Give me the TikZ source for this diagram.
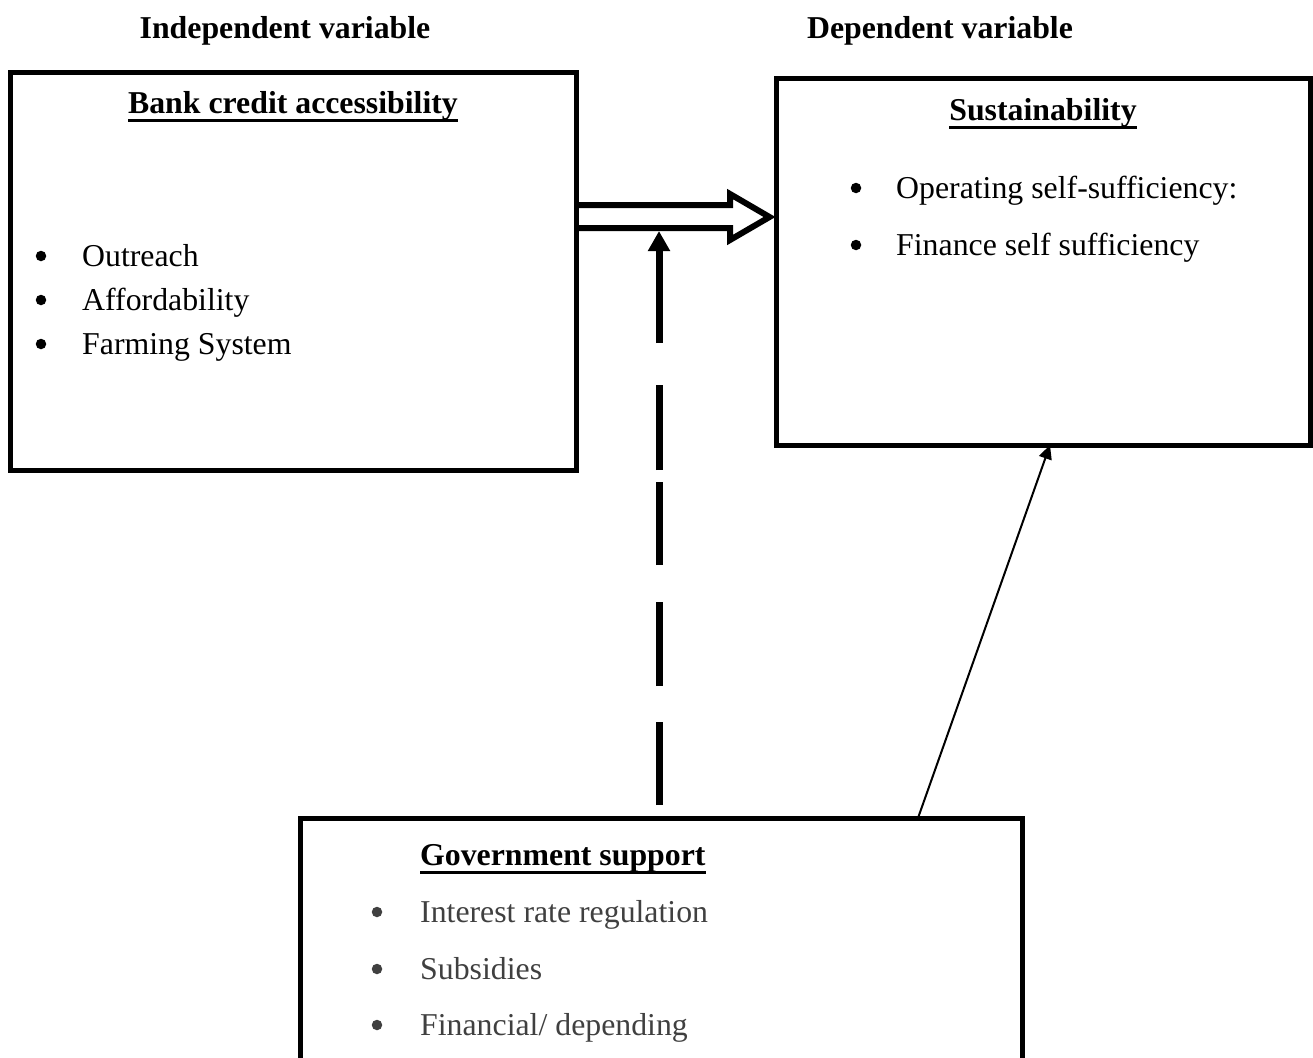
\documentclass[tikz,border=0pt]{standalone}
\usepackage{fontspec}
\setmainfont{Liberation Serif}
\usetikzlibrary{arrows.meta,calc}

\definecolor{govgray}{HTML}{404040}
\newcommand{\ulhead}[1]{\setbox0\hbox{#1}\rlap{\rule[-9pt]{\wd0}{3pt}}\box0}

\tikzset{
    box/.style={draw, rectangle, line width=5pt, inner sep=0pt},
    bigtxt/.style={font=\fontsize{31.8}{38}\selectfont, inner sep=0pt},
    headtxt/.style={font=\fontsize{31.8}{38}\selectfont\bfseries, inner sep=0pt},
    dot/.style={circle, fill, inner sep=0pt, minimum size=10.5pt},
    dasharrow/.style={line width=7pt, -{Triangle[width=21pt,length=20pt]},
        dash pattern=on 83pt off 36pt on 84pt off 37pt on 83pt off 12pt on 85pt off 42pt on 300pt off 1pt},
    thinarrow/.style={line width=2pt, -{Triangle[width=13pt,length=14pt]}},
}

\begin{document}
\begin{tikzpicture}[x=1pt, y=-1pt]
    \useasboundingbox (0,0) rectangle (1313,1057);

    % 1. Column headings
    \node[headtxt, anchor=base] (indep) at (285,38) {Independent variable};
    \node[headtxt, anchor=base] (dep) at (940,38) {Dependent variable};

    % 2. The three boxes
    \node[box, minimum width=566pt, minimum height=398pt] (bank) at (293,271) {};
    \node[box, minimum width=534pt, minimum height=367pt] (sust) at (1043,261.5) {};
    \node[box, minimum width=722pt, minimum height=244pt] (gov) at (661,940) {};

    % 3. Box titles
    \node[headtxt, anchor=base] (banktitle) at (293,113) {\ulhead{Bank credit accessibility}};
    \node[headtxt, anchor=base] (susttitle) at (1043,120) {\ulhead{Sustainability}};
    \node[headtxt, anchor=base west] (govtitle) at (420,865) {\ulhead{Government support}};

    % 4. Bullet items
    \foreach \y/\t in {266/Outreach, 310/Affordability, 354/Farming System} {
        \node[dot] (bankdot\y) at (41,\y-10) {};
        \node[bigtxt, anchor=base west] (bankitem\y) at (82,\y) {\t};
    }
    \foreach \y/\t in {198/Operating self-sufficiency:, 255/Finance self sufficiency} {
        \node[dot] (sustdot\y) at (856,\y-10) {};
        \node[bigtxt, anchor=base west] (sustitem\y) at (896,\y) {\t};
    }
    \foreach \y/\t in {922/Interest rate regulation, 979/Subsidies, 1035/{Financial/ depending}} {
        \node[dot, govgray] (govdot\y) at (377,\y-10) {};
        \node[bigtxt, govgray, anchor=base west] (govitem\y) at (420,\y) {\t};
    }

    % 5. Hollow arrow from bank credit to sustainability
    \draw[line width=6pt] (bank.east |- 0,205) -- (730,205) -- (730,194)
        -- ($(sust.west |- 0,217)+(-4,0)$) -- (730,240) -- (730,228)
        -- (bank.east |- 0,228);
    \coordinate (shaftlow) at (730,231);

    % 6. Government support arrows
    \coordinate (govtop) at ($(gov.north)+(-2,-10.5)$);
    \draw[dasharrow] (govtop) -- (govtop |- shaftlow);
    \draw[thinarrow] ($(gov.north)+(257,2.5)$) -- ($(sust.south)+(7,-2.5)$);

\end{tikzpicture}
\end{document}
